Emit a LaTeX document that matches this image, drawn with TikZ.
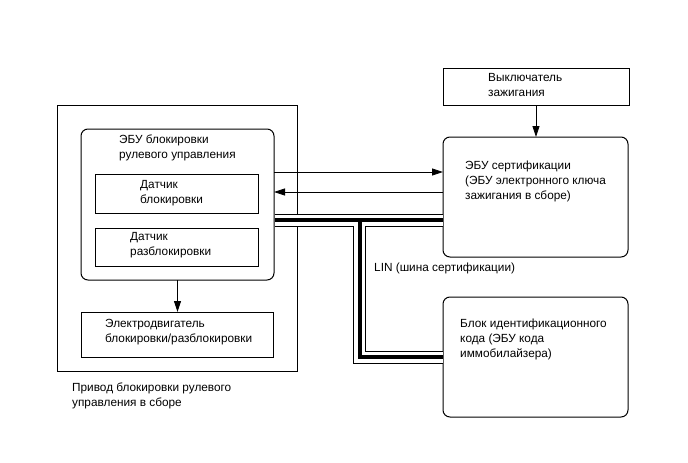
\documentclass[tikz,border=0pt]{standalone}
\usepackage{fontspec}
\setmainfont{Liberation Sans}
\usetikzlibrary{arrows.meta}
\begin{document}
\begin{tikzpicture}[x=1pt,y=-1pt,
  box/.style={draw,line width=1pt,anchor=north west,inner sep=0pt,outer sep=0pt},
  rbox/.style={box,rounded corners=7pt},
  lbl/.style={anchor=base west,align=left,inner sep=0pt,font=\fontsize{11.8}{15}\selectfont},
  arr/.style={line width=0.8pt,-{Triangle[length=11pt,width=7pt]}},
]
\useasboundingbox (0,0) rectangle (688,463);
% boxes
\node[box,minimum width=240pt,minimum height=266pt] (outer) at (57,105) {};
\node[rbox,minimum width=193pt,minimum height=151pt] (ebu) at (81,129) {};
\node[box,minimum width=163pt,minimum height=39pt] (s1) at (95,174) {};
\node[box,minimum width=163pt,minimum height=38pt] (s2) at (95,228) {};
\node[box,minimum width=192pt,minimum height=45pt] (motor) at (81,312) {};
\node[box,minimum width=186pt,minimum height=37pt] (ign) at (443,68) {};
\node[rbox,minimum width=185pt,minimum height=120pt] (cert) at (443,137) {};
\node[rbox,minimum width=185pt,minimum height=120pt] (idb) at (443,297) {};
% labels (anchored at the baseline of the last line)
\node[lbl] (tebu) at (119,158) {ЭБУ блокировки\\рулевого управления};
\node[lbl] (ts1) at (140,203) {Датчик\\блокировки};
\node[lbl] (ts2) at (130,255) {Датчик\\разблокировки};
\node[lbl] (tmotor) at (105,342) {Электродвигатель\\блокировки/разблокировки};
\node[lbl] (touter) at (72,406) {Привод блокировки рулевого\\управления в сборе};
\node[lbl] (tign) at (488,96) {Выключатель\\зажигания};
\node[lbl] (tcert) at (465,199) {ЭБУ сертификации\\(ЭБУ электронного ключа\\зажигания в сборе)};
\node[lbl] (tidb) at (460,357) {Блок идентификационного\\кода (ЭБУ кода\\иммобилайзера)};
\node[lbl] (tlin) at (374,271) {LIN (шина сертификации)};
% arrows
\coordinate (ya) at (0,172);
\coordinate (yb) at (0,192);
\draw[arr] (ebu.east |- ya) -- (cert.west |- ya);
\draw[arr] (cert.west |- yb) -- (ebu.east |- yb);
\draw[arr] (ign.south) -- (ign.south |- cert.north);
\draw[arr] (ebu.south) -- (ebu.south |- motor.north);
% LIN cable
\coordinate (ch) at (0,220);
\coordinate (cv) at (359.5,0);
\coordinate (cb) at (0,357);
\foreach \w/\c in {13/black,11/white,4/black} {
  \draw[line width=\w pt,\c,shorten <=0.5pt,shorten >=0.5pt] (ebu.east |- ch) -- (cert.west |- ch);
  \draw[line width=\w pt,\c,shorten >=0.5pt] (cv |- ch) -- (cv |- cb) -- (idb.west |- cb);
}
\end{tikzpicture}
\end{document}
